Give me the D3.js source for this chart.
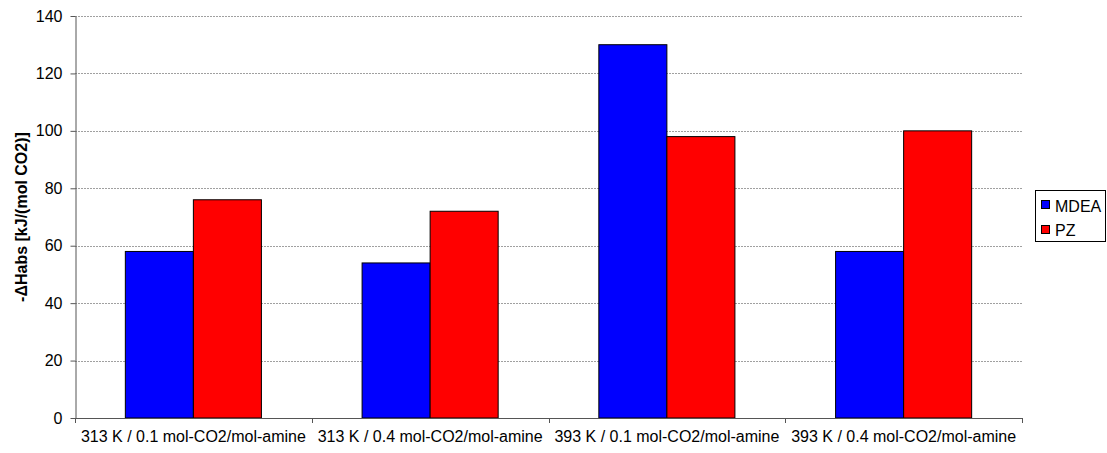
<!DOCTYPE html>
<html><head><meta charset="utf-8">
<script src="https://cdn.jsdelivr.net/npm/d3@7"></script>
<style>body{margin:0;background:#fff}svg{display:block;font-family:"Liberation Sans",Arial,sans-serif}</style>
</head><body><svg id="c" width="1107" height="453"></svg>
<script>
const categories = ["313 K / 0.1 mol-CO2/mol-amine","313 K / 0.4 mol-CO2/mol-amine","393 K / 0.1 mol-CO2/mol-amine","393 K / 0.4 mol-CO2/mol-amine"];
const seriesNames = ["MDEA","PZ"];
const mdea = [58, 54, 130, 58];
const pz = [76, 72, 98, 100];
const yTicks = [0,20,40,60,80,100,120,140];
const colors = ["#0000ff","#ff0000"];

const svg = d3.select("#c");
const L=75, R=1022, T=16, B=418;
const x = d3.scaleBand().domain(categories).range([L,R]).paddingInner(0).paddingOuter(0);
const y = d3.scaleLinear().domain([0,140]).range([B,T]);
const inner = d3.scaleBand().domain(seriesNames).range([0, x.bandwidth()]).paddingInner(0).paddingOuter(0.74);

// gridlines
svg.append("g").selectAll("line").data(yTicks.filter(d=>d>0)).join("line")
  .attr("x1",L).attr("x2",R).attr("y1",d=>Math.round(y(d))+0.5).attr("y2",d=>Math.round(y(d))+0.5)
  .attr("stroke","#a0a0a0").attr("stroke-width",1).attr("stroke-dasharray","2,1");

// bars
const values = [mdea, pz];
const g = svg.append("g");
seriesNames.forEach((s,si)=>{
  g.selectAll("rect.s"+si).data(categories).join("rect")
    .attr("x",(c)=>x(c)+inner(s))
    .attr("y",(c,i)=>y(values[si][i]))
    .attr("width",inner.bandwidth())
    .attr("height",(c,i)=>B-y(values[si][i]))
    .attr("fill",colors[si]).attr("stroke","#000").attr("stroke-width",1);
});

// axes
const ya = svg.append("g").attr("transform",`translate(${L+0.5},0)`)
  .call(d3.axisLeft(y).tickValues(yTicks).tickSize(5).tickSizeOuter(0).tickPadding(8));
const xa = svg.append("g").attr("transform",`translate(0,${B+0.5})`)
  .call(d3.axisBottom(x).tickSize(0).tickSizeOuter(0).tickPadding(12));
// x tick marks at category boundaries
const bounds = categories.map(c=>x(c)).concat([R]);
svg.append("g").selectAll("line").data(bounds).join("line")
  .attr("x1",d=>Math.round(d)+0.5).attr("x2",d=>Math.round(d)+0.5).attr("y1",B).attr("y2",B+5)
  .attr("stroke","#555");
[ya,xa].forEach(a=>{a.selectAll("path,line").attr("stroke","#555");a.selectAll("text").attr("font-size",16).attr("fill","#000").attr("font-family","Liberation Sans, Arial, sans-serif");});
xa.select(".domain").attr("d",`M${L},0H${R}`);

// y label
svg.append("text").attr("transform",`translate(27,${(T+B)/2}) rotate(-90)`)
  .attr("text-anchor","middle").attr("font-size",16).attr("font-weight","bold")
  .text("-ΔHabs [kJ/(mol CO2)]");

// legend
const lg = svg.append("g").attr("transform","translate(1035.5,190.5)");
lg.append("rect").attr("width",70).attr("height",51).attr("fill","#fff").attr("stroke","#000");
seriesNames.forEach((s,i)=>{
  lg.append("rect").attr("x",6).attr("y",10+i*25).attr("width",8).attr("height",8).attr("fill",colors[i]).attr("stroke","#000");
  lg.append("text").attr("x",19.5).attr("y",21.5+i*24).attr("font-size",16).text(s);
});
</script></body></html>
